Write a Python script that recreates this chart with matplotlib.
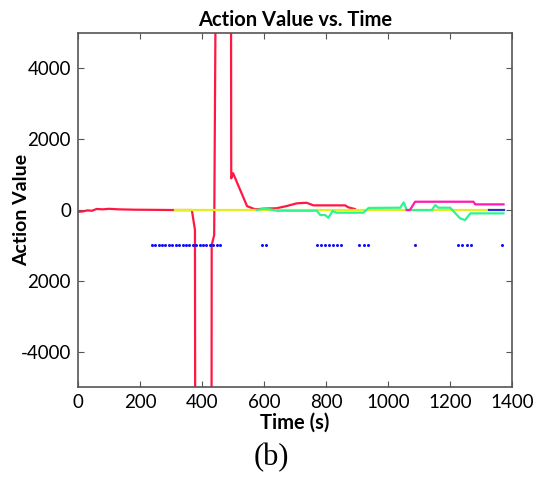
import numpy as np
import matplotlib
matplotlib.use("Agg")
import matplotlib.pyplot as plt

# Red action value (goes far off-scale around 380-500 s)
red_t = [0, 15, 30, 45, 60, 80, 100, 130, 180, 250, 313, 367, 377, 381,
         428, 431, 439, 445, 493, 494, 500, 545, 571, 600, 640, 673, 705,
         737, 759, 861, 872, 893]
red_v = [-50, -40, -10, -20, 30, 20, 35, 20, 10, 5, 0, 0, -565, -30000,
         -30000, -990, -706, 8000, 8000, 895, 1040, 110, 20, 40, 50, 113, 189,
         206, 132, 132, 75, 28]

# Green action value
green_t = [576, 598, 620, 641, 716, 770, 781, 797, 807, 821, 834, 920, 937,
           1039, 1050, 1060, 1141, 1152, 1162, 1200, 1232, 1248, 1265, 1372]
green_v = [0, 38, 20, -20, -20, -20, -141, -141, -217, -28, -75, -75, 60,
           66, 216, 0, 0, 141, 66, 66, -235, -282, -94, -94]

# Yellow action value
yellow_t = [313, 580, 893, 1324]
yellow_v = [0, 0, 0, 0]

# Magenta action value
magenta_t = [1060, 1070, 1087, 1275, 1281, 1372]
magenta_v = [0, 0, 235, 235, 160, 160]

# Blue action value
blue_t = [1324, 1372]
blue_v = [0, 0]

# Times at which an action was taken (dots at -1000)
act_t = [238, 249, 260, 271, 282, 293, 304, 315, 326, 337, 348, 359, 370,
         381, 392, 403, 414, 425, 436, 447, 458,
         592, 605,
         770, 783, 796, 809, 821, 834, 847,
         907, 922, 936,
         1087,
         1224, 1239, 1253, 1268,
         1368]
act_v = [-1000] * len(act_t)

xticks = [0, 200, 400, 600, 800, 1000, 1200, 1400]
yticks = [-4000, -2000, 0, 2000, 4000]
ytick_labels = ["-4000", "2000", "0", "2000", "4000"]

plt.rcParams['font.family'] = ['Lato', 'DejaVu Sans']

fig = plt.figure(figsize=(5.42, 4.79), dpi=100)
ax = fig.add_axes([0.144, 0.192, 0.801, 0.739])

ax.plot(red_t, red_v, color='#ff1744', lw=1.6)
ax.plot(yellow_t, yellow_v, color='#e3ee1e', lw=1.6)
ax.plot(green_t, green_v, color='#2cf58f', lw=1.6)
ax.plot(magenta_t, magenta_v, color='#ff19b0', lw=1.6)
ax.plot(blue_t, blue_v, color='#3030c8', lw=1.6)
ax.plot(act_t, act_v, ls='none', marker='o', ms=2.2, color='#1010ff', mec='none')

ax.set_xlim(0, 1400)
ax.set_ylim(-5000, 5000)
ax.set_xticks(xticks)
ax.set_yticks(yticks)
ax.set_yticklabels(ytick_labels)
ax.tick_params(direction='in', top=True, right=True, length=4, labelsize=13.5,
               color='#555555', pad=5)
for s in ax.spines.values():
    s.set_color('#555555')
    s.set_linewidth(1.2)

ax.set_title('Action Value vs. Time', fontsize=14.5, fontweight='bold', pad=5)
ax.set_xlabel('Time (s)', fontsize=14.5, fontweight='bold', labelpad=1)
ax.set_ylabel('Action Value', fontsize=14, fontweight='bold')
ax.yaxis.set_label_coords(-0.11, 0.5)
fig.text(0.5, 0.044, '(b)', fontsize=22, family=['Liberation Serif', 'DejaVu Serif'],
         ha='center', va='center')

fig.savefig('out.png', dpi=100)
